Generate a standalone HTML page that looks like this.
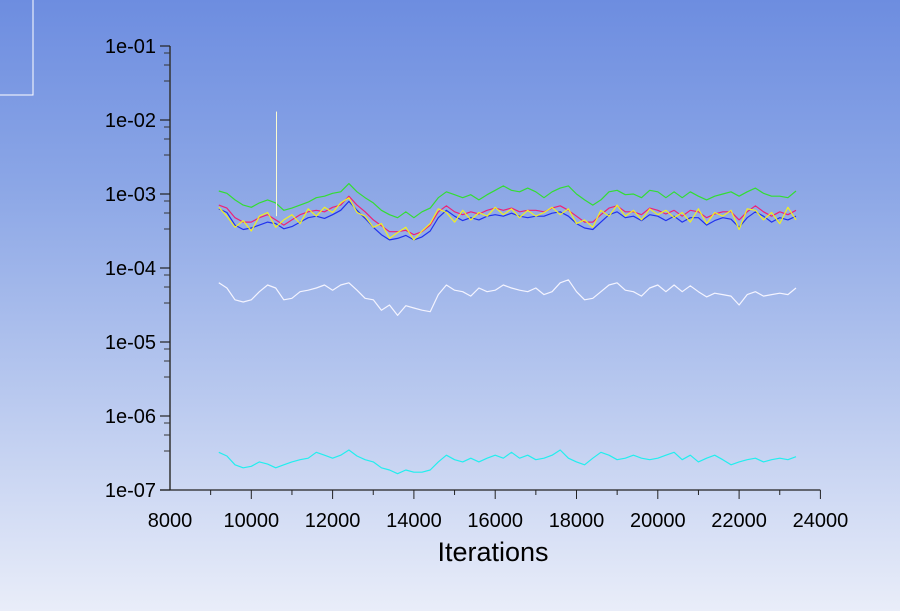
<!DOCTYPE html>
<html><head><meta charset="utf-8"><style>
html,body{margin:0;padding:0;width:900px;height:611px;overflow:hidden}
body{background:linear-gradient(#6d8de0 0%,#8ba6e6 30%,#b9c9ef 65%,#e9edf9 100%);font-family:"Liberation Sans",sans-serif}
</style></head><body>
<svg id="chart" width="900" height="611" xmlns="http://www.w3.org/2000/svg" style="position:absolute;left:0;top:0">
<rect x="-1" y="-1" width="34" height="96" fill="none" stroke="#ffffff" stroke-width="1"/>
<g id="axes"></g><g id="series"></g>
<text x="493" y="561" font-size="27" text-anchor="middle" fill="#000">Iterations</text>
</svg>
<script>
const startIter = 9200;
const iterStep = 200;
const xTicks = [8000,10000,12000,14000,16000,18000,20000,22000,24000];
const yTickLabels = ["1e-01","1e-02","1e-03","1e-04","1e-05","1e-06","1e-07"];
const greenLog = [-2.96,-2.99,-3.08,-3.15,-3.18,-3.12,-3.08,-3.12,-3.22,-3.19,-3.15,-3.11,-3.05,-3.03,-2.99,-2.97,-2.86,-2.97,-3.05,-3.12,-3.22,-3.28,-3.32,-3.24,-3.32,-3.24,-3.19,-3.05,-2.97,-3.01,-3.05,-3.01,-3.08,-3.01,-2.95,-2.89,-2.95,-2.97,-2.92,-2.97,-3.05,-2.97,-2.92,-2.89,-3.0,-3.08,-3.15,-3.08,-2.97,-2.95,-3.01,-3.0,-3.05,-2.95,-2.97,-3.05,-2.97,-3.05,-2.97,-3.03,-3.08,-3.03,-3.0,-2.97,-3.03,-2.97,-2.92,-2.99,-3.03,-3.03,-3.05,-2.96];
const blueLog = [-3.2,-3.25,-3.42,-3.48,-3.46,-3.42,-3.38,-3.40,-3.47,-3.44,-3.38,-3.32,-3.30,-3.33,-3.28,-3.22,-3.10,-3.22,-3.33,-3.45,-3.55,-3.62,-3.60,-3.56,-3.62,-3.58,-3.50,-3.32,-3.22,-3.30,-3.36,-3.32,-3.35,-3.30,-3.28,-3.30,-3.26,-3.30,-3.32,-3.30,-3.30,-3.26,-3.24,-3.30,-3.40,-3.46,-3.48,-3.38,-3.28,-3.24,-3.32,-3.30,-3.36,-3.28,-3.30,-3.36,-3.30,-3.38,-3.32,-3.32,-3.42,-3.36,-3.32,-3.34,-3.45,-3.32,-3.24,-3.30,-3.38,-3.32,-3.35,-3.30];
const redLog = [-3.15,-3.19,-3.32,-3.38,-3.38,-3.32,-3.28,-3.35,-3.42,-3.35,-3.28,-3.24,-3.22,-3.24,-3.18,-3.15,-3.03,-3.15,-3.24,-3.35,-3.43,-3.51,-3.51,-3.49,-3.55,-3.51,-3.42,-3.24,-3.16,-3.24,-3.28,-3.24,-3.27,-3.22,-3.19,-3.22,-3.19,-3.24,-3.22,-3.22,-3.24,-3.19,-3.16,-3.22,-3.30,-3.38,-3.38,-3.28,-3.19,-3.16,-3.24,-3.24,-3.28,-3.19,-3.22,-3.27,-3.22,-3.30,-3.22,-3.24,-3.32,-3.27,-3.24,-3.24,-3.35,-3.24,-3.16,-3.24,-3.30,-3.24,-3.28,-3.22];
const yellowLog = [-3.18,-3.30,-3.45,-3.36,-3.50,-3.30,-3.25,-3.45,-3.35,-3.28,-3.40,-3.20,-3.30,-3.18,-3.25,-3.12,-3.05,-3.25,-3.30,-3.45,-3.40,-3.60,-3.52,-3.45,-3.62,-3.50,-3.40,-3.20,-3.25,-3.38,-3.22,-3.35,-3.25,-3.30,-3.18,-3.28,-3.20,-3.32,-3.22,-3.30,-3.25,-3.18,-3.28,-3.20,-3.40,-3.35,-3.45,-3.22,-3.30,-3.15,-3.30,-3.22,-3.35,-3.20,-3.28,-3.22,-3.32,-3.25,-3.38,-3.20,-3.40,-3.25,-3.30,-3.22,-3.48,-3.20,-3.22,-3.35,-3.25,-3.40,-3.18,-3.35];
const whiteLog = [-4.20,-4.27,-4.43,-4.46,-4.43,-4.32,-4.23,-4.27,-4.43,-4.41,-4.32,-4.30,-4.27,-4.23,-4.30,-4.23,-4.20,-4.30,-4.41,-4.43,-4.57,-4.50,-4.64,-4.51,-4.54,-4.57,-4.59,-4.36,-4.23,-4.30,-4.32,-4.38,-4.27,-4.32,-4.30,-4.23,-4.27,-4.30,-4.32,-4.27,-4.36,-4.32,-4.20,-4.16,-4.32,-4.43,-4.41,-4.32,-4.23,-4.20,-4.30,-4.32,-4.38,-4.27,-4.23,-4.32,-4.23,-4.32,-4.24,-4.32,-4.39,-4.34,-4.36,-4.38,-4.50,-4.36,-4.32,-4.38,-4.36,-4.34,-4.36,-4.27];
const cyanLog = [-6.49,-6.54,-6.66,-6.70,-6.68,-6.62,-6.65,-6.70,-6.66,-6.62,-6.59,-6.57,-6.49,-6.53,-6.57,-6.53,-6.46,-6.54,-6.59,-6.62,-6.70,-6.73,-6.78,-6.73,-6.76,-6.76,-6.73,-6.62,-6.53,-6.59,-6.62,-6.57,-6.62,-6.57,-6.53,-6.57,-6.49,-6.57,-6.53,-6.59,-6.57,-6.53,-6.46,-6.57,-6.62,-6.66,-6.57,-6.49,-6.53,-6.59,-6.57,-6.53,-6.57,-6.59,-6.57,-6.53,-6.49,-6.59,-6.53,-6.62,-6.57,-6.53,-6.59,-6.66,-6.62,-6.59,-6.57,-6.62,-6.59,-6.57,-6.59,-6.55];
const spikeIter = 10620;
const spikeValue = 1.3e-2;

const NS="http://www.w3.org/2000/svg";
const X0=170, XPX=0.04065, Y0=194, DEC=74;
function xs(it){return X0+(it-8000)*XPX;}
function ysLog(l){return Y0+(-3-l)*DEC;}
function mk(tag,attrs,parent){const e=document.createElementNS(NS,tag);for(const k in attrs)e.setAttribute(k,attrs[k]);parent.appendChild(e);return e;}
const axes=document.getElementById('axes'), ser=document.getElementById('series');
let a=mk('line',{x1:X0,y1:ysLog(-1),x2:X0,y2:ysLog(-7),stroke:'#333',"stroke-width":1.5},axes);


a=mk('line',{x1:160,y1:ysLog(-7),x2:xs(24000),y2:ysLog(-7),stroke:'#222',"stroke-width":1.2},axes);


yTickLabels.forEach((lab,i)=>{
  const l=-1-i, y=ysLog(l);
  let t=mk('line',{x1:X0-10,y1:y,x2:X0,y2:y,stroke:'#222',"stroke-width":1.2},axes);
  
  
  if(i<6){[7,19,35].forEach(o=>{let m=mk('line',{x1:X0-6,y1:y+o,x2:X0,y2:y+o,stroke:'#333',"stroke-width":1},axes);
    
    });}
  let tx=mk('text',{x:156,y:y+7,"font-size":20,"text-anchor":"end",fill:'#000'},axes);tx.textContent=lab;
  
  
});
for(let it=9000;it<=24000;it+=1000){
  const major=it%2000===0;
  let m=mk('line',{x1:xs(it),y1:ysLog(-7),x2:xs(it),y2:ysLog(-7)+(major?9:5),stroke:'#222',"stroke-width":1},axes);
  
  
}
xTicks.forEach(v=>{let tx=mk('text',{x:xs(v),y:527,"font-size":20,"text-anchor":"middle",fill:'#000'},axes);tx.textContent=v;
  
  });
function drawSeries(arr,color,name){
  const pts=arr.map((l,i)=>xs(startIter+i*iterStep).toFixed(1)+','+ysLog(l).toFixed(1)).join(' ');
  const p=mk('polyline',{points:pts,fill:'none',stroke:color,"stroke-width":1.2,"stroke-linejoin":"round"},ser);
  
  
}
drawSeries(greenLog,'#33dd33','continuity-line');
drawSeries(blueLog,'#2233ee','x-velocity-line');
drawSeries(redLog,'#ee2277','y-velocity-line');
drawSeries(yellowLog,'#f2f020','z-velocity-line');
drawSeries(whiteLog,'#f4f4ff','energy-line');
drawSeries(cyanLog,'#22eeee','k-line');
const sp=mk('line',{x1:xs(spikeIter),y1:ysLog(-3.3),x2:xs(spikeIter),y2:ysLog(Math.log10(spikeValue)),stroke:'#fbfbd0',"stroke-width":1},ser);


</script>
</body></html>
